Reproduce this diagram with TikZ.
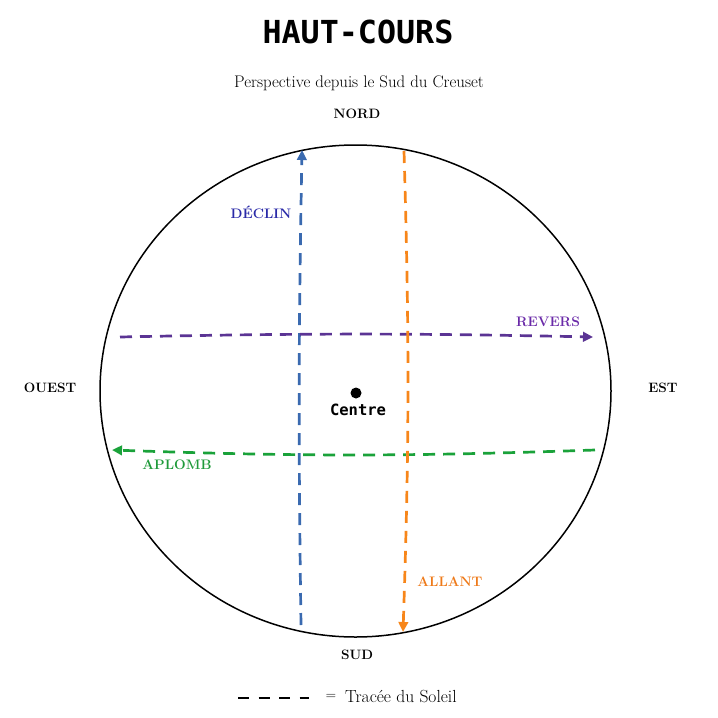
\documentclass[tikz,border=0pt]{standalone}
\usepackage{fontspec}
\newfontfamily\titlefont{DejaVu Sans Mono}
\usepackage{tikz}
\usetikzlibrary{arrows.meta}

\definecolor{declinline}{HTML}{3A6AB0}
\definecolor{declintext}{HTML}{2A2AA8}
\definecolor{reversline}{HTML}{5B3494}
\definecolor{reverstext}{HTML}{6A2AA8}
\definecolor{aplombline}{HTML}{1AA23A}
\definecolor{aplombtext}{HTML}{1F9A3A}
\definecolor{allantline}{HTML}{F7861A}
\definecolor{allanttext}{HTML}{EE7A1A}

\tikzset{
  cardinal/.style={font=\fontsize{13.6}{15}\selectfont\bfseries},
  pathlabel/.style={font=\fontsize{13.8}{15}\selectfont\bfseries},
  sunpath/.style={line width=2.7pt,dash pattern=on 12pt off 8pt,
                  -{Triangle[length=10pt,width=9.5pt]}},
}

\begin{document}
\begin{tikzpicture}[x=1pt,y=-1pt]
            \useasboundingbox (0,0) rectangle (718,718);

            \node (titre) at (358,32) {\titlefont\bfseries\fontsize{31.7}{34}\selectfont HAUT-COURS};
            \node (sous) at (359,83) {\fontsize{16.8}{19}\selectfont Perspective depuis le Sud du Creuset};

            % Cercle
            \draw[line width=1.5pt] (355.5,391) ellipse (255.5 and 246);

            \node[cardinal] (nord) at (357,114) {NORD};
            \node[cardinal] (sud) at (357,655) {SUD};
            \node[cardinal] (ouest) at (50,388) {OUEST};
            \node[cardinal] (est) at (663,388) {EST};

            \fill (356,393) circle (5.5) coordinate (c);
            \node[font=\titlefont\bfseries\fontsize{15.5}{17}\selectfont] (centre) at (358,410) {Centre};

            % Extremites des tracees
            \coordinate (declin-a) at (301,625);
            \coordinate (declin-b) at (302,150);
            \coordinate (revers-a) at (120,337);
            \coordinate (revers-b) at (593,337);
            \coordinate (aplomb-a) at (595,450);
            \coordinate (aplomb-b) at (112,450);
            \coordinate (allant-a) at (404,151);
            \coordinate (allant-b) at (403,632);

            \draw[sunpath,declinline] (declin-a) to[bend left=0.95] (declin-b);
            \draw[sunpath,reversline] (revers-a) to[bend left=1.2] (revers-b);
            \draw[sunpath,aplombline] (aplomb-a) to[bend left=2] (aplomb-b);
            \draw[sunpath,allantline] (allant-a) to[bend left=1.8] (allant-b);

            \node[pathlabel,declintext] (declin) at (261,212) {DÉCLIN};
            \node[pathlabel,reverstext] (revers) at (548,322) {REVERS};
            \node[pathlabel,aplombtext] (aplomb) at (177,465) {APLOMB};
            \node[pathlabel,allanttext] (allant) at (450,582) {ALLANT};

            % Legende
            \coordinate (leg-a) at (238,698);
            \coordinate (leg-b) at (309,698);
            \draw[line width=2pt,dash pattern=on 11pt off 9.5pt] (leg-a) -- (leg-b);
            \node (egal) at (331,697) {\fontsize{14}{16}\selectfont =};
            \node[anchor=west,inner sep=0pt] (soleil) at (345,697) {\fontsize{17.5}{19}\selectfont Tracée du Soleil};
\end{tikzpicture}
\end{document}
